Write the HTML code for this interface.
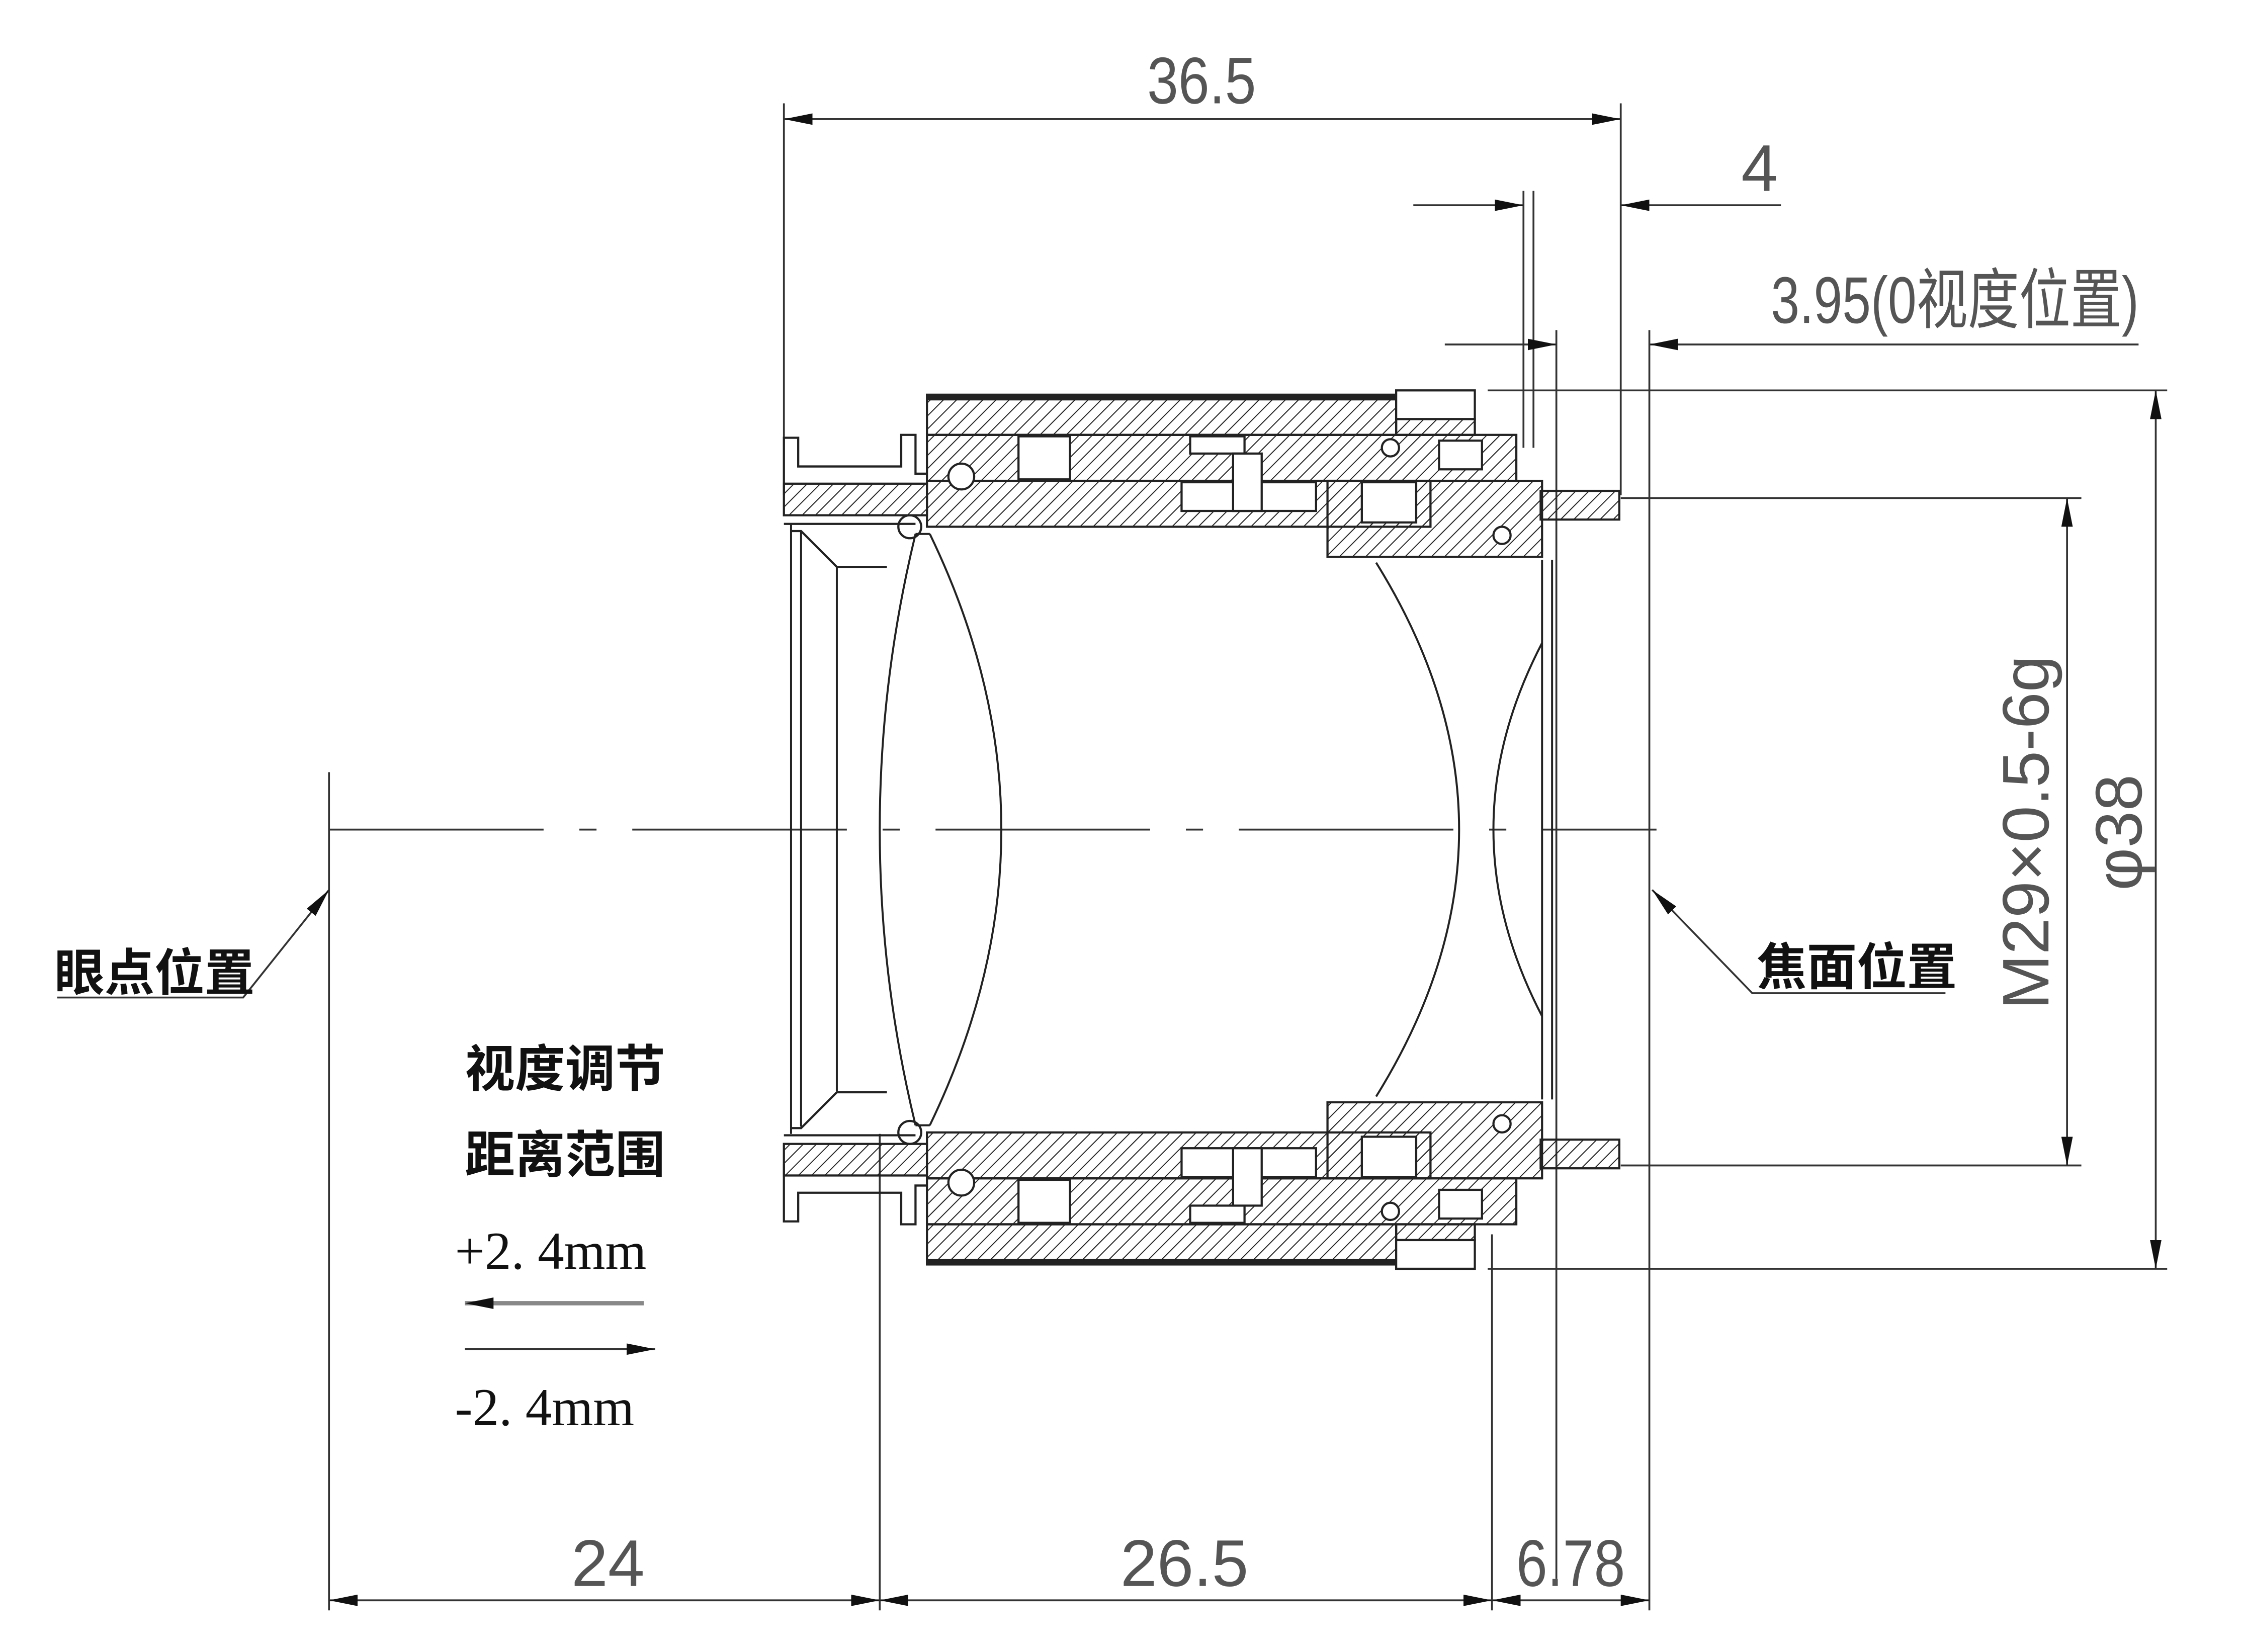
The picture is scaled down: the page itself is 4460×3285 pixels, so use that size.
<!DOCTYPE html>
<html><head><meta charset="utf-8"><style>
html,body{margin:0;padding:0;background:#fff;}
svg{display:block;}
.d{font-family:"Liberation Sans Narrow","Liberation Sans",sans-serif;fill:#555;font-size:46px;}
.c{font-family:"Liberation Sans","Noto Sans CJK SC",sans-serif;fill:#111;font-size:35px;font-weight:bold;}
.s{font-family:"Liberation Serif","Noto Serif CJK SC",serif;fill:#111;font-size:37px;}
</style></head><body>
<svg width="4460" height="3285" viewBox="0 0 1568 1151" preserveAspectRatio="none" xmlns="http://www.w3.org/2000/svg">
<defs>
<pattern id="h" width="6.5" height="6.5" patternUnits="userSpaceOnUse" patternTransform="rotate(45)">
<line x1="0" y1="0" x2="0" y2="7" stroke="#222" stroke-width="1.4"/>
</pattern>
<pattern id="h2" width="6.5" height="6.5" patternUnits="userSpaceOnUse" patternTransform="rotate(-45)">
<line x1="0" y1="0" x2="0" y2="7" stroke="#222" stroke-width="1.4"/>
</pattern>
<marker id="a" viewBox="0 0 20 8" refX="20" refY="4" markerWidth="20" markerHeight="8" markerUnits="userSpaceOnUse" orient="auto-start-reverse">
<path d="M0,0 L20,4 L0,8 z" fill="#111"/>
</marker>
</defs>
<rect width="1568" height="1151" fill="#fff"/>
<g stroke="#333" stroke-width="1.3" fill="none">
<line x1="548" y1="72" x2="548" y2="310"/>
<line x1="1133" y1="72" x2="1133" y2="345"/>
<line x1="1065" y1="133" x2="1065" y2="312"/>
<line x1="1072" y1="133" x2="1072" y2="312"/>
<line x1="1088" y1="230" x2="1088" y2="1100"/>
<line x1="1153" y1="230" x2="1153" y2="1122"/>
<line x1="1043" y1="860" x2="1043" y2="1122"/>
<line x1="615" y1="790" x2="615" y2="1122"/>
<line x1="230" y1="538" x2="230" y2="1122"/>
<line x1="1040" y1="272" x2="1515" y2="272"/>
<line x1="1133" y1="347" x2="1455" y2="347"/>
<line x1="1133" y1="812" x2="1455" y2="812"/>
<line x1="1040" y1="884" x2="1515" y2="884"/>
<line x1="548" y1="83" x2="1133" y2="83" marker-start="url(#a)" marker-end="url(#a)"/>
<line x1="988" y1="143" x2="1065" y2="143" marker-end="url(#a)"/>
<line x1="1245" y1="143" x2="1133" y2="143" marker-end="url(#a)"/>
<line x1="1010" y1="240" x2="1088" y2="240" marker-end="url(#a)"/>
<line x1="1495" y1="240" x2="1153" y2="240" marker-end="url(#a)"/>
<line x1="1507" y1="272" x2="1507" y2="884" marker-start="url(#a)" marker-end="url(#a)"/>
<line x1="1445" y1="347" x2="1445" y2="812" marker-start="url(#a)" marker-end="url(#a)"/>
<line x1="230" y1="1115" x2="615" y2="1115" marker-start="url(#a)" marker-end="url(#a)"/>
<line x1="615" y1="1115" x2="1043" y2="1115" marker-start="url(#a)" marker-end="url(#a)"/>
<line x1="1043" y1="1115" x2="1153" y2="1115" marker-start="url(#a)" marker-end="url(#a)"/>
<line x1="230" y1="578" x2="1158" y2="578" stroke-dasharray="150,25,12,25"/>
<polyline points="230,620 170,695 40,695" marker-start="url(#a)"/>
<polyline points="1155,620 1225,692 1360,692" marker-start="url(#a)"/>
<line x1="450" y1="908" x2="325" y2="908" stroke="#888" stroke-width="3" marker-end="url(#a)"/>
<line x1="325" y1="940" x2="458" y2="940" marker-end="url(#a)"/>
</g>
<g stroke="#222" stroke-width="1.5">
<rect x="648" y="275" width="328" height="28" fill="url(#h)"/>
<line x1="648" y1="277" x2="976" y2="277" stroke-width="4"/>
<rect x="976" y="272" width="55" height="20" fill="#fff"/>
<rect x="976" y="292" width="55" height="11" fill="url(#h)"/>
<rect x="648" y="303" width="412" height="32" fill="url(#h)"/>
<rect x="712" y="304" width="36" height="30" fill="#fff"/>
<rect x="832" y="304" width="38" height="12" fill="#fff"/>
<rect x="1006" y="307" width="30" height="20" fill="#fff"/>
<rect x="648" y="335" width="352" height="32" fill="url(#h)"/>
<rect x="826" y="336" width="94" height="20" fill="#fff"/>
<rect x="862" y="316" width="20" height="40" fill="#fff"/>
<rect x="928" y="335" width="150" height="53" fill="url(#h)"/>
<rect x="952" y="336" width="38" height="28" fill="#fff"/>
<rect x="1077" y="342" width="55" height="20" fill="url(#h)"/>
<circle cx="672" cy="332" r="9" fill="#fff"/>
<circle cx="972" cy="312" r="6" fill="#fff"/>
<circle cx="1050" cy="373" r="6" fill="#fff"/>
<circle cx="636" cy="367" r="8" fill="#fff"/>
<path d="M548,345 L548,305 L558,305 L558,325 L630,325 L630,303 L640,303 L640,330 L648,330" fill="none"/>
<rect x="548" y="337" width="100" height="22" fill="url(#h)"/>
<path d="M548,365 L640,365 M553,370 L560,370 L585,395 L620,395" fill="none"/>
</g>
<g stroke="#222" stroke-width="1.5" transform="translate(0,1156) scale(1,-1)">
<rect x="648" y="275" width="328" height="28" fill="url(#h2)"/>
<line x1="648" y1="277" x2="976" y2="277" stroke-width="4"/>
<rect x="976" y="272" width="55" height="20" fill="#fff"/>
<rect x="976" y="292" width="55" height="11" fill="url(#h2)"/>
<rect x="648" y="303" width="412" height="32" fill="url(#h2)"/>
<rect x="712" y="304" width="36" height="30" fill="#fff"/>
<rect x="832" y="304" width="38" height="12" fill="#fff"/>
<rect x="1006" y="307" width="30" height="20" fill="#fff"/>
<rect x="648" y="335" width="352" height="32" fill="url(#h2)"/>
<rect x="826" y="336" width="94" height="20" fill="#fff"/>
<rect x="862" y="316" width="20" height="40" fill="#fff"/>
<rect x="928" y="335" width="150" height="53" fill="url(#h2)"/>
<rect x="952" y="336" width="38" height="28" fill="#fff"/>
<rect x="1077" y="342" width="55" height="20" fill="url(#h2)"/>
<circle cx="672" cy="332" r="9" fill="#fff"/>
<circle cx="972" cy="312" r="6" fill="#fff"/>
<circle cx="1050" cy="373" r="6" fill="#fff"/>
<circle cx="636" cy="367" r="8" fill="#fff"/>
<path d="M548,345 L548,305 L558,305 L558,325 L630,325 L630,303 L640,303 L640,330 L648,330" fill="none"/>
<rect x="548" y="337" width="100" height="22" fill="url(#h2)"/>
<path d="M548,365 L640,365 M553,370 L560,370 L585,395 L620,395" fill="none"/>
</g>
<g stroke="#222" stroke-width="1.4" fill="none">
<line x1="553" y1="365" x2="553" y2="790"/>
<line x1="560" y1="370" x2="560" y2="785"/>
<line x1="585" y1="395" x2="585" y2="760"/>
<line x1="1085" y1="390" x2="1085" y2="766"/>
<line x1="1078" y1="390" x2="1078" y2="766"/>
<path d="M640,372 Q590,578 640,784 M650,372 Q750,578 650,784 M640,372 L650,372 M640,784 L650,784"/>
<path d="M962,392 Q1078,578 962,764 M1078,448 Q1010,578 1078,708"/>
</g>
<text class="d" x="840" y="72" text-anchor="middle" transform="translate(840,0) scale(0.85,1) translate(-840,0)">36.5</text>
<text class="d" x="1230" y="133" text-anchor="middle">4</text>
<text class="d" x="1238" y="225" transform="translate(1238,0) scale(0.78,1) translate(-1238,0)">3.95(0<tspan font-family="Noto Sans CJK SC,sans-serif">视度位置</tspan>)</text>
<text class="d" x="425" y="1105" text-anchor="middle">24</text>
<text class="d" x="828" y="1105" text-anchor="middle">26.5</text>
<text class="d" x="1098" y="1105" text-anchor="middle" transform="translate(1098,0) scale(0.85,1) translate(-1098,0)">6.78</text>
<text class="d" transform="translate(1432,580) rotate(-90)" text-anchor="middle">M29×0.5-6g</text>
<text class="d" transform="translate(1497,580) rotate(-90)" text-anchor="middle">φ38</text>
<text class="c" x="38" y="690">眼点位置</text>
<text class="c" x="1228" y="686">焦面位置</text>
<text class="c" x="325" y="757">视度调节</text>
<text class="c" x="325" y="817">距离范围</text>
<text class="s" x="318" y="884">+2. 4mm</text>
<text class="s" x="318" y="993">-2. 4mm</text>
</svg>
</body></html>
